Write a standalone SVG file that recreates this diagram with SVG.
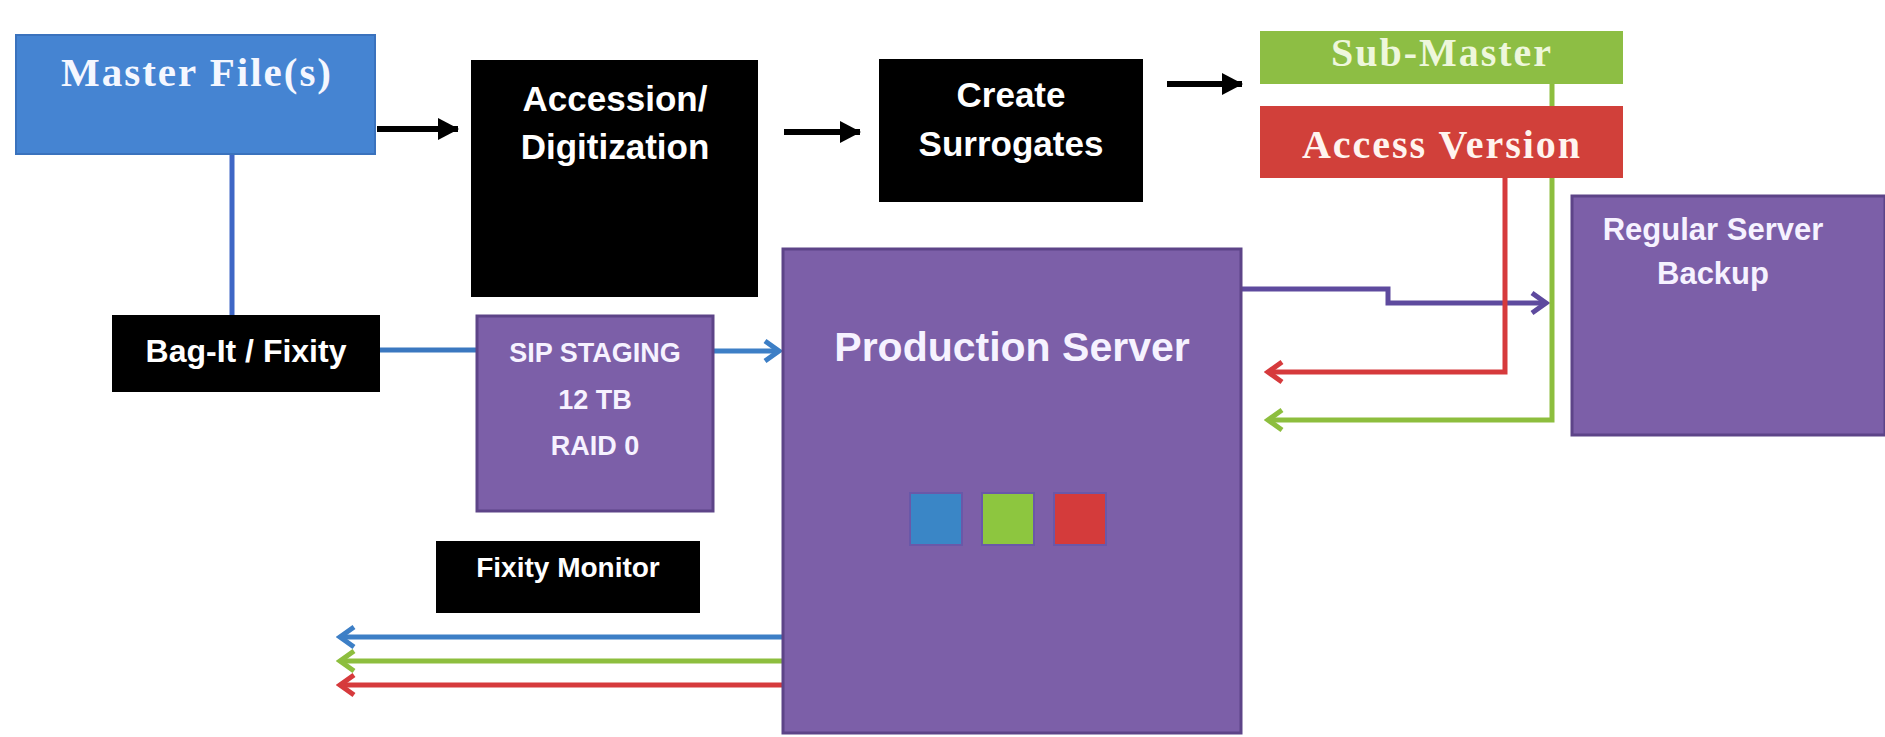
<svg xmlns="http://www.w3.org/2000/svg" width="1885" height="737" viewBox="0 0 1885 737">
  <style>
    .serif { font-family: "Liberation Serif", "Times New Roman", serif; font-weight: bold; text-anchor: middle; letter-spacing: 2px; }
    .sans { font-family: "Liberation Sans", Arial, sans-serif; font-weight: bold; text-anchor: middle; fill: #ffffff; }
    .black { fill: #000000; }
    .purple { fill: #7c5fa8; stroke: #5d4488; stroke-width: 3; }
    .ptext { fill: #f6f2ff; }
    .conn { fill: none; stroke-width: 5; }
  </style>
  <defs>
    <marker id="blackHead" markerUnits="userSpaceOnUse" markerWidth="22" markerHeight="24" viewBox="0 0 22 24" refX="20" refY="12" orient="auto">
      <path d="M0,1 L21,12 L0,23 Z" fill="#000000"/>
    </marker>
    <marker id="blueHead" markerUnits="userSpaceOnUse" markerWidth="24" markerHeight="26" viewBox="0 0 24 26" refX="20" refY="13" orient="auto">
      <path d="M6,3 L20,13 L6,23" fill="none" stroke="#3d7fc6" stroke-width="5"/>
    </marker>
    <marker id="purpleHead" markerUnits="userSpaceOnUse" markerWidth="24" markerHeight="26" viewBox="0 0 24 26" refX="20" refY="13" orient="auto">
      <path d="M6,3 L20,13 L6,23" fill="none" stroke="#5e4a9e" stroke-width="5"/>
    </marker>
    <marker id="redHead" markerUnits="userSpaceOnUse" markerWidth="24" markerHeight="26" viewBox="0 0 24 26" refX="20" refY="13" orient="auto">
      <path d="M6,3 L20,13 L6,23" fill="none" stroke="#d63a3c" stroke-width="5"/>
    </marker>
    <marker id="greenHead" markerUnits="userSpaceOnUse" markerWidth="24" markerHeight="26" viewBox="0 0 24 26" refX="20" refY="13" orient="auto">
      <path d="M6,3 L20,13 L6,23" fill="none" stroke="#8dbe3e" stroke-width="5"/>
    </marker>
  </defs>

  <rect x="0" y="0" width="1885" height="737" fill="#ffffff"/>

  <!-- Connectors -->
  <g id="connectors">
    <line x1="377" y1="129" x2="458" y2="129" stroke="#000" stroke-width="6" marker-end="url(#blackHead)"/>
    <line x1="784" y1="132" x2="860" y2="132" stroke="#000" stroke-width="6" marker-end="url(#blackHead)"/>
    <line x1="1167" y1="84" x2="1242" y2="84" stroke="#000" stroke-width="6" marker-end="url(#blackHead)"/>
    <line x1="232" y1="154" x2="232" y2="315" class="conn" stroke="#3f67c6"/>
    <line x1="380" y1="350" x2="477" y2="350" class="conn" stroke="#3b78c0"/>
    <line x1="713" y1="351" x2="779" y2="351" class="conn" stroke="#3d7fc6" marker-end="url(#blueHead)"/>
    <polyline points="1241,289 1388,289 1388,303 1546,303" class="conn" stroke="#5e4a9e" marker-end="url(#purpleHead)"/>
    <polyline points="1505,178 1505,372 1268,372" class="conn" stroke="#d63a3c" marker-end="url(#redHead)"/>
    <polyline points="1552,84 1552,420 1268,420" class="conn" stroke="#8dbe3e" marker-end="url(#greenHead)"/>
    <line x1="783" y1="637" x2="340" y2="637" class="conn" stroke="#3d7fc6" marker-end="url(#blueHead)"/>
    <line x1="783" y1="661" x2="340" y2="661" class="conn" stroke="#8dbe3e" marker-end="url(#greenHead)"/>
    <line x1="783" y1="685" x2="340" y2="685" class="conn" stroke="#d63a3c" marker-end="url(#redHead)"/>
  </g>

  <g id="master-files">
    <rect x="16" y="35" width="359" height="119" fill="#4584d2" stroke="#3a72bd" stroke-width="2"/>
    <text x="197" y="86" class="serif" font-size="41" fill="#f4f7ff">Master File(s)</text>
  </g>

  <g id="bag-it">
    <rect x="112" y="315" width="268" height="77" class="black"/>
    <text x="246" y="362" class="sans" font-size="32">Bag-It / Fixity</text>
  </g>

  <g id="accession">
    <rect x="471" y="60" width="287" height="237" class="black"/>
    <text x="615" y="111" class="sans" font-size="35">Accession/</text>
    <text x="615" y="159" class="sans" font-size="35">Digitization</text>
  </g>

  <g id="create-surrogates">
    <rect x="879" y="59" width="264" height="143" class="black"/>
    <text x="1011" y="107" class="sans" font-size="35">Create</text>
    <text x="1011" y="156" class="sans" font-size="35">Surrogates</text>
  </g>

  <g id="sub-master">
    <rect x="1260" y="31" width="363" height="53" fill="#8dbe44"/>
    <text x="1442" y="66" class="serif" font-size="40" fill="#eef7dc">Sub-Master</text>
  </g>

  <g id="access-version">
    <rect x="1260" y="106" width="363" height="72" fill="#d1403a"/>
    <text x="1442" y="158" class="serif" font-size="40" fill="#fff4ef">Access Version</text>
  </g>

  <g id="sip-staging">
    <rect x="477" y="316" width="236" height="195" class="purple"/>
    <text x="595" y="362" class="sans ptext" font-size="27">SIP STAGING</text>
    <text x="595" y="409" class="sans ptext" font-size="27">12 TB</text>
    <text x="595" y="455" class="sans ptext" font-size="27">RAID 0</text>
  </g>

  <g id="production-server">
    <rect x="783" y="249" width="458" height="484" class="purple"/>
    <text x="1012" y="361" class="sans ptext" font-size="41">Production Server</text>
    <rect x="910" y="493" width="52" height="52" fill="#3a86c6" stroke="#6a58a8" stroke-width="2"/>
    <rect x="982" y="493" width="52" height="52" fill="#8dc63f" stroke="#6a58a8" stroke-width="2"/>
    <rect x="1054" y="493" width="52" height="52" fill="#d43b3b" stroke="#6a58a8" stroke-width="2"/>
  </g>

  <g id="regular-server-backup">
    <rect x="1572" y="196" width="313" height="239" class="purple"/>
    <text x="1713" y="240" class="sans ptext" font-size="31">Regular Server</text>
    <text x="1713" y="284" class="sans ptext" font-size="31">Backup</text>
  </g>

  <g id="fixity-monitor">
    <rect x="436" y="541" width="264" height="72" class="black"/>
    <text x="568" y="577" class="sans" font-size="28">Fixity Monitor</text>
  </g>
</svg>
